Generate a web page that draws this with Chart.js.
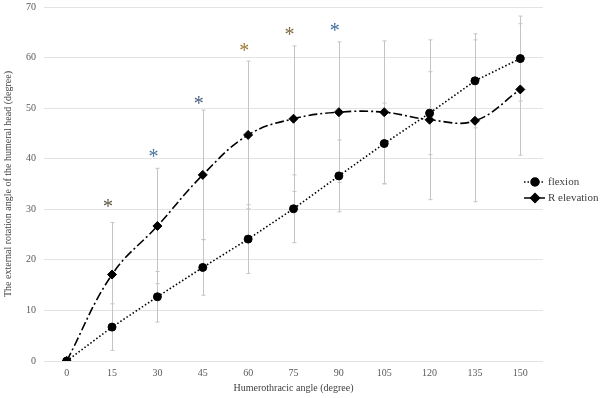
<!DOCTYPE html>
<html>
<head>
<meta charset="utf-8">
<script src="https://cdn.jsdelivr.net/npm/chart.js@4/dist/chart.umd.min.js"></script>
<style>
  html, body { margin: 0; padding: 0; background: #fff; }
  #wrap { width: 600px; height: 398px; }
</style>
</head>
<body>
<div id="wrap"><canvas id="chart" width="600" height="398"></canvas></div>
<script>
const angles = ["0", "15", "30", "45", "60", "75", "90", "105", "120", "135", "150"];

const flexion = [0, 6.7, 12.7, 18.5, 24.1, 30.1, 36.6, 43.0, 49.0, 55.4, 59.8];
const flexionSd = [0, 4.6, 5.0, 5.5, 6.8, 6.7, 7.1, 8.0, 8.2, 9.3, 8.4];

const elevation = [0, 17.1, 26.7, 36.8, 44.7, 47.9, 49.2, 49.2, 47.7, 47.5, 53.7];
const elevationSd = [0, 10.3, 11.4, 12.8, 14.6, 14.4, 13.9, 14.1, 15.8, 16.0, 13.0];

// significance marks: category, height (degree), colour
const starAngles = ["15", "30", "45", "60", "75", "90"];
const starHeights = [31.2, 41.2, 51.7, 62.0, 65.3, 66.1];
const starColors = ["#5b5444", "#4d73a0", "#4d5f80", "#9a7b33", "#7d6a42", "#3f6e9e"];

const SERIF = "'Liberation Serif', 'Times New Roman', serif";

// error bars under the lines
const errorBars = {
  id: "errorBars",
  beforeDatasetsDraw(chart) {
    const { ctx, scales } = chart;
    const x = scales.x, y = scales.y;
    const sets = [[flexion, flexionSd], [elevation, elevationSd]];
    ctx.save();
    ctx.strokeStyle = "#c4c4c4";
    ctx.lineWidth = 1;
    sets.forEach(([vals, sds]) => {
      vals.forEach((v, i) => {
        if (!sds[i]) return;
        const px = Math.round(x.getPixelForValue(i)) + 0.5;
        const top = y.getPixelForValue(v + sds[i]);
        const bot = y.getPixelForValue(v - sds[i]);
        ctx.beginPath();
        ctx.moveTo(px, top);
        ctx.lineTo(px, bot);
        ctx.moveTo(px - 2, top);
        ctx.lineTo(px + 2, top);
        ctx.moveTo(px - 2, bot);
        ctx.lineTo(px + 2, bot);
        ctx.stroke();
      });
    });
    ctx.restore();
  },
};

// asterisks and the legend at the right
const extras = {
  id: "extras",
  afterDraw(chart) {
    const { ctx, scales } = chart;
    ctx.save();
    ctx.font = "20px " + SERIF;
    ctx.textAlign = "center";
    ctx.textBaseline = "alphabetic";
    starAngles.forEach((a, i) => {
      const px = scales.x.getPixelForValue(angles.indexOf(a)) - 4;
      const py = scales.y.getPixelForValue(starHeights[i]);
      const m = ctx.measureText("*");
      const shift = (m.actualBoundingBoxAscent - m.actualBoundingBoxDescent) / 2;
      ctx.fillStyle = starColors[i];
      ctx.fillText("*", px, py + shift);
    });

    // legend
    const items = [
      { text: "flexion", dash: [1.5, 2], style: "circle", y: 182 },
      { text: "R elevation", dash: [], style: "rectRot", y: 198 },
    ];
    items.forEach((it) => {
      ctx.strokeStyle = "#000";
      ctx.lineWidth = 1.5;
      ctx.setLineDash(it.dash);
      ctx.beginPath();
      ctx.moveTo(524, it.y);
      ctx.lineTo(545, it.y);
      ctx.stroke();
      ctx.setLineDash([]);
      ctx.fillStyle = "#000";
      Chart.helpers.drawPoint(ctx, {
        pointStyle: it.style,
        radius: it.style === "circle" ? 4 : 4.5,
        borderWidth: 1,
      }, 535, it.y);
      ctx.fillStyle = "#404040";
      ctx.font = "11px " + SERIF;
      ctx.textAlign = "left";
      ctx.textBaseline = "middle";
      ctx.fillText(it.text, 548, it.y);
    });
    ctx.restore();
  },
};

new Chart(document.getElementById("chart"), {
  type: "line",
  data: {
    labels: angles,
    datasets: [
      {
        label: "flexion",
        data: flexion,
        borderColor: "#000",
        backgroundColor: "#000",
        borderWidth: 1.6,
        borderDash: [1.5, 2.2],
        tension: 0,
        pointStyle: "circle",
        pointRadius: 4,
        pointBorderWidth: 1,
        pointBackgroundColor: "#000",
        pointBorderColor: "#000",
      },
      {
        label: "R elevation",
        data: elevation,
        borderColor: "#000",
        backgroundColor: "#000",
        borderWidth: 1.6,
        borderDash: [9, 3, 2, 3],
        tension: 0.4,
        pointStyle: "rectRot",
        pointRadius: 4.5,
        pointBorderWidth: 1,
        pointBackgroundColor: "#000",
        pointBorderColor: "#000",
      },
    ],
  },
  options: {
    responsive: false,
    animation: false,
    events: [],
    layout: { padding: { top: 7, right: 57, left: 0, bottom: 0 } },
    plugins: {
      legend: { display: false },
      tooltip: { enabled: false },
    },
    scales: {
      x: {
        offset: true,
        grid: { display: false, drawTicks: false },
        border: { display: false },
        ticks: {
          color: "#595959",
          font: { family: SERIF, size: 10 },
          padding: 6,
          maxRotation: 0,
        },
        title: {
          display: true,
          text: "Humerothracic angle (degree)",
          color: "#404040",
          font: { family: SERIF, size: 10 },
          padding: { top: 2, bottom: 4 },
        },
        afterFit(scale) {
          scale.height = 37;
        },
      },
      y: {
        min: 0,
        max: 70,
        grid: { color: "#e3e3e3", lineWidth: 1, drawTicks: false },
        border: { display: false },
        ticks: {
          stepSize: 10,
          color: "#595959",
          font: { family: SERIF, size: 10 },
          padding: 8,
        },
        title: {
          display: true,
          text: "The external rotation angle of the humeral head (degree)",
          color: "#404040",
          font: { family: SERIF, size: 10 },
          padding: { top: 2, bottom: 6 },
        },
        afterFit(scale) {
          scale.width = 44;
          scale.paddingTop = 0;
          scale.paddingBottom = 0;
        },
      },
    },
  },
  plugins: [errorBars, extras],
});
</script>
</body>
</html>
